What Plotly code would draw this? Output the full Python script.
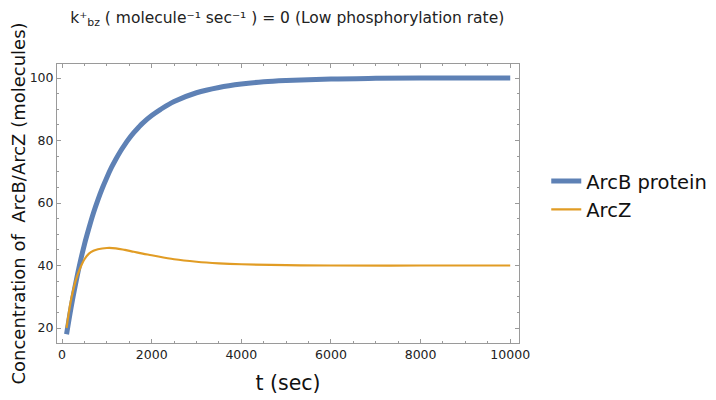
import plotly.graph_objects as go

# values
t_arcb = [100, 200, 300, 400, 500, 600, 700, 800, 900, 1000, 1100, 1200, 1300, 1400, 1500,
          1600, 1700, 1800, 2000, 2200, 2500, 3000, 3500, 4000, 4500, 5000, 6000, 7000,
          8000, 9000, 10000]
arcb = [18, 26.5, 34, 40.8, 46.8, 52, 56.8, 61, 64.8, 68.2, 71.3, 74, 76.5, 78.7, 80.7,
        82.5, 84.1, 85.6, 88, 90, 92.5, 95.3, 97, 98.1, 98.8, 99.2, 99.7, 99.9,
        100, 100, 100]

t_arcz = [100, 200, 300, 400, 500, 600, 700, 800, 1000, 1200, 1400, 1600, 1800, 2000,
          2500, 3000, 3500, 4000, 5000, 6000, 8000, 10000]
arcz = [20, 29, 35, 39, 42, 43.8, 44.7, 45.2, 45.6, 45.5, 45, 44.4, 43.8, 43.3,
        42, 41.2, 40.7, 40.4, 40.1, 40, 40, 40]

x_ticks = [0, 2000, 4000, 6000, 8000, 10000]
y_ticks = [20, 40, 60, 80, 100]

BLUE = '#5E81B5'
ORANGE = '#E19C24'
FRAME = '#9a9a9a'
FONT = 'DejaVu Sans'

fig = go.Figure()
fig.add_trace(go.Scatter(x=t_arcb, y=arcb, name='ArcB protein', mode='lines',
                         line=dict(color=BLUE, width=5, shape='spline')))
fig.add_trace(go.Scatter(x=t_arcz, y=arcz, name='ArcZ', mode='lines',
                         line=dict(color=ORANGE, width=2.2, shape='spline')))

axis_common = dict(showgrid=False, zeroline=False, showline=True, linecolor=FRAME, linewidth=1,
                   mirror='allticks', ticks='inside', ticklen=4, tickcolor=FRAME, automargin=False,
                   tickfont=dict(family=FONT, size=12.5, color='#222'))

fig.update_xaxes(range=[-113, 10196], tickvals=x_ticks, ticktext=[str(v) for v in x_ticks],
                 minor=dict(dtick=500, tick0=0, ticks='inside', ticklen=2, tickcolor=FRAME),
                 title=dict(text='t (sec)', font=dict(family=FONT, size=20.5, color='#111'), standoff=14),
                 **axis_common)
fig.update_yaxes(range=[15.2, 104.5], tickvals=y_ticks,
                 minor=dict(dtick=5, tick0=0, ticks='inside', ticklen=2, tickcolor=FRAME),
                 title=dict(text='Concentration of  ArcB/ArcZ (molecules)',
                            font=dict(family=FONT, size=18, color='#111'), standoff=11),
                 **axis_common)

# the page puts the figure 8px in from the top-left corner, so margins allow for that
fig.update_layout(
    width=716, height=400,
    margin=dict(l=49, r=201, t=56, b=65),
    paper_bgcolor='white', plot_bgcolor='white',
    font=dict(family=FONT),
    title=dict(text='k⁺<sub>bz</sub> ( molecule⁻¹ sec⁻¹ ) = 0 (Low phosphorylation rate)',
               x=0.39, xanchor='center', y=0.99, yanchor='top', pad=dict(t=0),
               font=dict(family=FONT, size=15.5, color='#222')),
    legend=dict(x=1.059, y=0.649, xanchor='left', yanchor='top',
                font=dict(family=FONT, size=19.5, color='#111'),
                bgcolor='rgba(0,0,0,0)', tracegroupgap=6),
    showlegend=True,
)

fig.write_html("out.html")
